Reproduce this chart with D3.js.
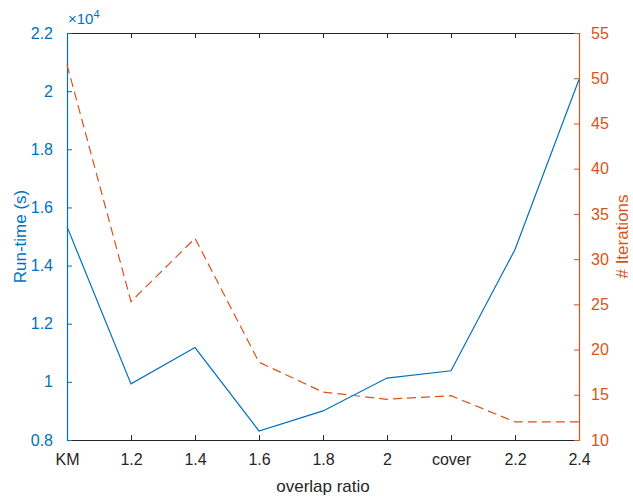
<!DOCTYPE html>
<html lang="en">
<head>
<meta charset="utf-8">
<title>run-time vs overlap ratio</title>
<script src="https://d3js.org/d3.v7.min.js"></script>
<style>
  body { margin: 0; background: #fff; }
  svg { display: block; font-family: "Liberation Sans", Arial, sans-serif; }
  .tick text { font-size: 16px; }
  .lbl { font-size: 17px; }
</style>
</head>
<body>
<svg width="633" height="497"></svg>
<script>
// categories on the x axis
const categories = ["KM", "1.2", "1.4", "1.6", "1.8", "2", "cover", "2.2", "2.4"];
// run-time in units of 10^4 s (left axis)
const runTime = [1.534, 0.993, 1.118, 0.831, 0.900, 1.013, 1.038, 1.455, 2.04];
// number of iterations (right axis)
const iterations = [51.5, 25.3, 32.3, 18.6, 15.3, 14.5, 14.9, 12.0, 12.0];
const leftTicks = [0.8, 1, 1.2, 1.4, 1.6, 1.8, 2, 2.2];
const rightTicks = [10, 15, 20, 25, 30, 35, 40, 45, 50, 55];

const blue = "#0072BD", red = "#D95319", dark = "#262626";
const padL = 67, padR = 579, padT = 33, padB = 440;

const svg = d3.select("svg");

const x = d3.scalePoint().domain(categories).range([padL, padR]);
const yL = d3.scaleLinear().domain([0.8, 2.2]).range([padB, padT]);
const yR = d3.scaleLinear().domain([10, 55]).range([padB, padT]);

// bottom axis
const xAxis = svg.append("g")
  .attr("transform", `translate(0,${padB})`)
  .call(d3.axisBottom(x).tickSizeInner(-5).tickSizeOuter(0).tickPadding(14));
xAxis.select(".domain").attr("stroke", dark);
xAxis.selectAll(".tick line").attr("stroke", dark);
xAxis.selectAll(".tick text").attr("fill", dark);

// top axis (ticks only)
const xTop = svg.append("g")
  .attr("transform", `translate(0,${padT})`)
  .call(d3.axisTop(x).tickSizeInner(-5).tickSizeOuter(0).tickFormat(""));
xTop.select(".domain").attr("stroke", dark);
xTop.selectAll(".tick line").attr("stroke", dark);

// left axis
const yAxisL = svg.append("g")
  .attr("transform", `translate(${padL},0)`)
  .call(d3.axisLeft(yL).tickValues(leftTicks).tickSizeInner(-5).tickSizeOuter(0)
    .tickPadding(14).tickFormat(d3.format("~g")));
yAxisL.select(".domain").attr("stroke", blue).attr("stroke-width", 1.2);
yAxisL.selectAll(".tick line").attr("stroke", blue);
yAxisL.selectAll(".tick text").attr("fill", blue);

// right axis
const yAxisR = svg.append("g")
  .attr("transform", `translate(${padR},0)`)
  .call(d3.axisRight(yR).tickValues(rightTicks).tickSizeInner(-5).tickSizeOuter(0).tickPadding(12));
yAxisR.select(".domain").attr("stroke", red).attr("stroke-width", 1.2);
yAxisR.selectAll(".tick line").attr("stroke", red);
yAxisR.selectAll(".tick text").attr("fill", red);

// lines
svg.append("path")
  .datum(runTime)
  .attr("fill", "none")
  .attr("stroke", blue)
  .attr("stroke-width", 1.2)
  .attr("d", d3.line().x((d, i) => x(categories[i])).y(d => yL(d)));

svg.append("path")
  .datum(iterations)
  .attr("fill", "none")
  .attr("stroke", red)
  .attr("stroke-width", 1.2)
  .attr("stroke-dasharray", "9,5")
  .attr("d", d3.line().x((d, i) => x(categories[i])).y(d => yR(d)));

// exponent label
const ex = svg.append("text")
  .attr("x", padL + 1).attr("y", 24)
  .attr("fill", blue).attr("font-size", 15);
ex.append("tspan").text("\u00d710");
ex.append("tspan").attr("dy", -6).attr("font-size", 11).text("4");

// axis labels
svg.append("text").attr("class", "lbl")
  .attr("x", 323).attr("y", 492)
  .attr("text-anchor", "middle").attr("fill", dark)
  .text("overlap ratio");

svg.append("text").attr("class", "lbl")
  .attr("transform", `translate(26,${(padT + padB) / 2}) rotate(-90)`)
  .attr("text-anchor", "middle").attr("fill", blue)
  .text("Run-time (s)");

svg.append("text").attr("class", "lbl")
  .attr("transform", `translate(628,${(padT + padB) / 2}) rotate(-90)`)
  .attr("text-anchor", "middle").attr("fill", red)
  .text("# Iterations");
</script>
</body>
</html>
